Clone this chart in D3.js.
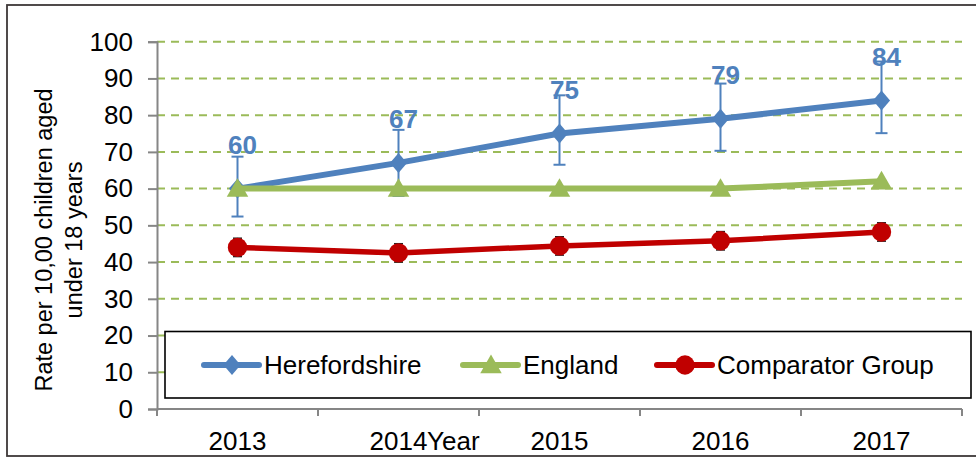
<!DOCTYPE html>
<html>
<head>
<meta charset="utf-8">
<script src="https://cdn.jsdelivr.net/npm/d3@7"></script>
<style>
  body { margin: 0; background: #fff; }
  svg { display: block; font-family: "Liberation Sans", Arial, sans-serif; }
</style>
</head>
<body>
<div id="chart"></div>
<script>
// chart values
const years = ["2013", "2014", "2015", "2016", "2017"];
const hereford = [60, 67, 75, 79, 84];
const herefordLow = [52.4, 58, 66.5, 70.3, 75.1];
const herefordHigh = [68.7, 76, 85.4, 88.6, 94.6];
const england = [60, 60, 60, 60, 62];
const comparator = [44, 42.5, 44.4, 45.8, 48.2];
const comparatorLow = [41.5, 40, 41.9, 43.3, 45.7];
const comparatorHigh = [46.5, 45, 46.9, 48.3, 50.7];
const yTicks = [0, 10, 20, 30, 40, 50, 60, 70, 80, 90, 100];
const seriesNames = ["Herefordshire", "England", "Comparator Group"];

const width = 976, height = 457;
const margin = {left: 157, right: 14, top: 41.7, bottom: 48};

const blue = "#4F81BD", green = "#9BBB59", red = "#C00000";

const svg = d3.select("#chart")
  .append("svg")
  .attr("width", width)
  .attr("height", height);

// outer frame (cropped on the right in the original)
svg.append("rect")
  .attr("x", 7).attr("y", 5)
  .attr("width", 990).attr("height", 451)
  .attr("fill", "none")
  .attr("stroke", "#3d3838")
  .attr("stroke-width", 1.8);

let xScale = d3.scaleBand()
  .domain(years)
  .range([margin.left, width - margin.right]);

let yScale = d3.scaleLinear()
  .domain([0, 100])
  .range([height - margin.bottom, margin.top]);

const cx = d => xScale(d) + xScale.bandwidth() / 2;

// dashed gridlines
svg.append("g")
  .selectAll("line")
  .data(yTicks.filter(t => t > 0))
  .enter()
  .append("line")
    .attr("x1", margin.left)
    .attr("x2", width - margin.right)
    .attr("y1", d => yScale(d))
    .attr("y2", d => yScale(d))
    .attr("stroke", green)
    .attr("stroke-width", 2)
    .attr("stroke-dasharray", "8,6");

// y axis
const yAxis = svg.append("g")
  .attr("transform", `translate(${margin.left},0)`)
  .call(d3.axisLeft(yScale).tickValues(yTicks).tickSize(9).tickPadding(15));
yAxis.select(".domain").attr("stroke", "#868686").attr("stroke-width", 2);
yAxis.selectAll(".tick line").attr("stroke", "#868686").attr("stroke-width", 2);
yAxis.selectAll("text")
  .attr("font-size", "26px")
  .attr("fill", "#000")
  .attr("font-family", "Liberation Sans, Arial, sans-serif");

// x axis: line plus ticks at the category boundaries
svg.append("line")
  .attr("x1", margin.left).attr("x2", width - margin.right)
  .attr("y1", yScale(0)).attr("y2", yScale(0))
  .attr("stroke", "#868686").attr("stroke-width", 2);

const bounds = years.map(d => xScale(d)).concat([xScale(years[years.length - 1]) + xScale.bandwidth()]);
svg.append("g")
  .selectAll("line")
  .data(bounds)
  .enter()
  .append("line")
    .attr("x1", d => d).attr("x2", d => d)
    .attr("y1", yScale(0)).attr("y2", yScale(0) + 7)
    .attr("stroke", "#868686").attr("stroke-width", 2);

svg.append("g")
  .selectAll("text")
  .data(years)
  .enter()
  .append("text")
    .attr("x", d => cx(d))
    .attr("y", 450)
    .attr("text-anchor", "middle")
    .attr("font-size", "26px")
    .text(d => d);

// axis titles
svg.append("text")
  .attr("x", 427)
  .attr("y", 450)
  .attr("font-size", "26px")
  .text("Year");

const yTitle = svg.append("text")
  .attr("transform", "translate(44,240) rotate(-90)")
  .attr("text-anchor", "middle")
  .attr("font-size", "23.5px");
yTitle.append("tspan").attr("x", 0).attr("dy", "0.35em").text("Rate per 10,00 children aged");
yTitle.append("tspan").attr("x", 0).attr("dy", "30").text("under 18 years");

const lineGen = d3.line()
  .x((d, i) => cx(years[i]))
  .y(d => yScale(d));

const diamond = d3.symbol().type(d3.symbolDiamond2).size(230);
const triangle = d3.symbol().type(d3.symbolTriangle).size(200);

function errorBars(low, high, colour, cap, sw) {
  const g = svg.append("g").attr("stroke", colour).attr("stroke-width", sw);
  years.forEach((yr, i) => {
    const x = cx(yr);
    g.append("line").attr("x1", x).attr("x2", x)
      .attr("y1", yScale(low[i])).attr("y2", yScale(high[i]));
    g.append("line").attr("x1", x - cap).attr("x2", x + cap)
      .attr("y1", yScale(low[i])).attr("y2", yScale(low[i]));
    g.append("line").attr("x1", x - cap).attr("x2", x + cap)
      .attr("y1", yScale(high[i])).attr("y2", yScale(high[i]));
  });
}

// Herefordshire
errorBars(herefordLow, herefordHigh, blue, 6, 2);
svg.append("path")
  .datum(hereford)
  .attr("d", lineGen)
  .attr("fill", "none")
  .attr("stroke", blue)
  .attr("stroke-width", 6);
svg.append("g")
  .selectAll("path")
  .data(hereford)
  .enter()
  .append("path")
    .attr("d", diamond)
    .attr("transform", (d, i) => `translate(${cx(years[i])},${yScale(d)}) scale(0.9,1.05)`)
    .attr("fill", blue);

// England
svg.append("path")
  .datum(england)
  .attr("d", lineGen)
  .attr("fill", "none")
  .attr("stroke", green)
  .attr("stroke-width", 6);
svg.append("g")
  .selectAll("path")
  .data(england)
  .enter()
  .append("path")
    .attr("d", triangle)
    .attr("transform", (d, i) => `translate(${cx(years[i])},${yScale(d) + 2})`)
    .attr("fill", green);

// Comparator group
errorBars(comparatorLow, comparatorHigh, "#222", 4.5, 1.5);
svg.append("path")
  .datum(comparator)
  .attr("d", lineGen)
  .attr("fill", "none")
  .attr("stroke", red)
  .attr("stroke-width", 5.5);
svg.append("g")
  .selectAll("circle")
  .data(comparator)
  .enter()
  .append("circle")
    .attr("cx", (d, i) => cx(years[i]))
    .attr("cy", d => yScale(d))
    .attr("r", 9.7)
    .attr("fill", red);

// data labels for Herefordshire
svg.append("g")
  .selectAll("text")
  .data(hereford)
  .enter()
  .append("text")
    .attr("x", (d, i) => cx(years[i]) + 5)
    .attr("y", d => yScale(d) - 44)
    .attr("dy", "0.35em")
    .attr("text-anchor", "middle")
    .attr("font-size", "26px")
    .attr("font-weight", "bold")
    .attr("fill", blue)
    .text(d => d);

// legend
const legend = svg.append("g");
legend.append("rect")
  .attr("x", 165).attr("y", 331.5)
  .attr("width", 806).attr("height", 66.5)
  .attr("fill", "#fff")
  .attr("stroke", "#000")
  .attr("stroke-width", 1.6);

const legendItems = [
  {name: seriesNames[0], colour: blue, x: 204, shape: "diamond"},
  {name: seriesNames[1], colour: green, x: 463, shape: "triangle"},
  {name: seriesNames[2], colour: red, x: 657, shape: "circle"}
];
const ly = 365;
legendItems.forEach(it => {
  legend.append("line")
    .attr("x1", it.x).attr("x2", it.x + 55)
    .attr("y1", ly).attr("y2", ly)
    .attr("stroke", it.colour)
    .attr("stroke-width", 6)
    .attr("stroke-linecap", "round");
  const mx = it.x + 28;
  if (it.shape === "diamond") {
    legend.append("path").attr("d", diamond)
      .attr("transform", `translate(${mx},${ly}) scale(0.9,1.05)`).attr("fill", it.colour);
  } else if (it.shape === "triangle") {
    legend.append("path").attr("d", triangle)
      .attr("transform", `translate(${mx},${ly + 2})`).attr("fill", it.colour);
  } else {
    legend.append("circle").attr("cx", mx).attr("cy", ly).attr("r", 9.7).attr("fill", it.colour);
  }
  legend.append("text")
    .attr("x", it.x + 60)
    .attr("y", ly)
    .attr("dy", "0.35em")
    .attr("font-size", "26px")
    .text(it.name);
});
</script>
</body>
</html>
